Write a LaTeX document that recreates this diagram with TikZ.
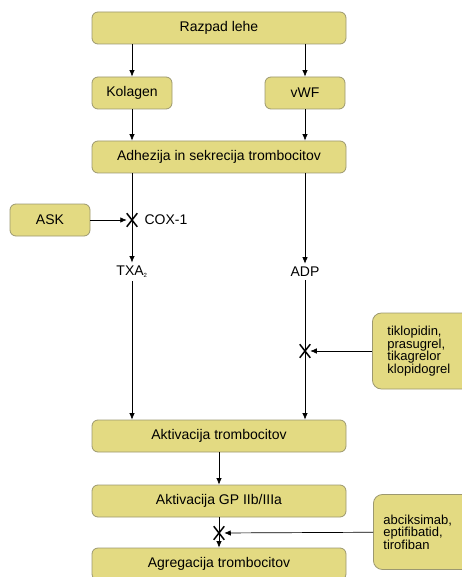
\documentclass[tikz,border=0pt]{standalone}
\usepackage{fontspec}
\setmainfont{Liberation Sans}
\usetikzlibrary{arrows.meta,shapes.misc}
\definecolor{boxfill}{HTML}{E3DA82}
\definecolor{boxline}{HTML}{9C9870}

\tikzset{
  box/.style={draw=boxline,fill=boxfill,rounded corners=6pt,line width=0.8pt,minimum height=32pt,inner sep=2pt},
  widebox/.style={box,minimum width=254pt},
  smallbox/.style={box,minimum width=80pt},
  drugbox/.style={box,rounded corners=9pt,align=left,text width=80pt,font=\fontsize{13}{12.5}\selectfont},
  xmark/.style={cross out,draw,line width=1.5pt,minimum width=9pt,minimum height=12pt,inner sep=0pt},
  flow/.style={->,line width=0.7pt}
}

\begin{document}
\begin{tikzpicture}[x=1pt,y=-1pt,>={Latex[length=6.5pt,width=5.5pt]},every node/.style={font=\fontsize{14}{15}\selectfont}]
  \useasboundingbox (0,0) rectangle (461,577);
  \node[widebox] (razpad) at (219,28) {Razpad lehe};
  \node[smallbox] (kolagen) at (132,93) {Kolagen};
  \node[smallbox] (vwf) at (305,93) {vWF};
  \node[widebox] (adhezija) at (219,157) {Adhezija in sekrecija trombocitov};
  \node[smallbox] (ask) at (50,220) {ASK};
  \node[xmark] (coxx) at (132,220) {};
  \node[anchor=west] (cox) at (141,220) {COX-1};
  \node (txa) at (132,272) {TXA\textsubscript{\fontsize{6}{6}\selectfont 2}};
  \node (adp) at (305,272) {ADP};
  \node[xmark] (adpx) at (305,351) {};
  \node[drugbox,minimum height=76pt,inner xsep=15pt,anchor=west] (tiklo) at (372,351) {tiklopidin,\\prasugrel,\\tikagrelor\\klopidogrel};
  \node[widebox] (aktivacija) at (219,436) {Aktivacija trombocitov};
  \node[widebox] (gp) at (219,501) {Aktivacija GP IIb/IIIa};
  \node[xmark] (gpx) at (219,533) {};
  \node[widebox] (agregacija) at (219,564) {Agregacija trombocitov};
  \node[drugbox,minimum height=75pt,inner xsep=10pt,anchor=west] (abcik) at (373,532) {abciksimab,\\eptifibatid,\\tirofiban};

  \draw[flow] (razpad.south -| kolagen) -- (kolagen);
  \draw[flow] (razpad.south -| vwf) -- (vwf);
  \draw[flow] (kolagen) -- (adhezija.north -| kolagen);
  \draw[flow] (vwf) -- (adhezija.north -| vwf);
  \draw[flow] (adhezija.south -| txa) -- (txa);
  \draw[flow] (adhezija.south -| adp) -- (adp);
  \draw[flow] (ask) -- (coxx);
  \draw[flow] (txa) -- (aktivacija.north -| txa);
  \draw[flow] (adp) -- (aktivacija.north -| adp);
  \draw[flow] (tiklo) -- (adpx);
  \draw[flow] (aktivacija) -- (gp);
  \draw[flow] (gp) -- (agregacija);
  \draw[flow] (abcik) -- (gpx);
\end{tikzpicture}
\end{document}
